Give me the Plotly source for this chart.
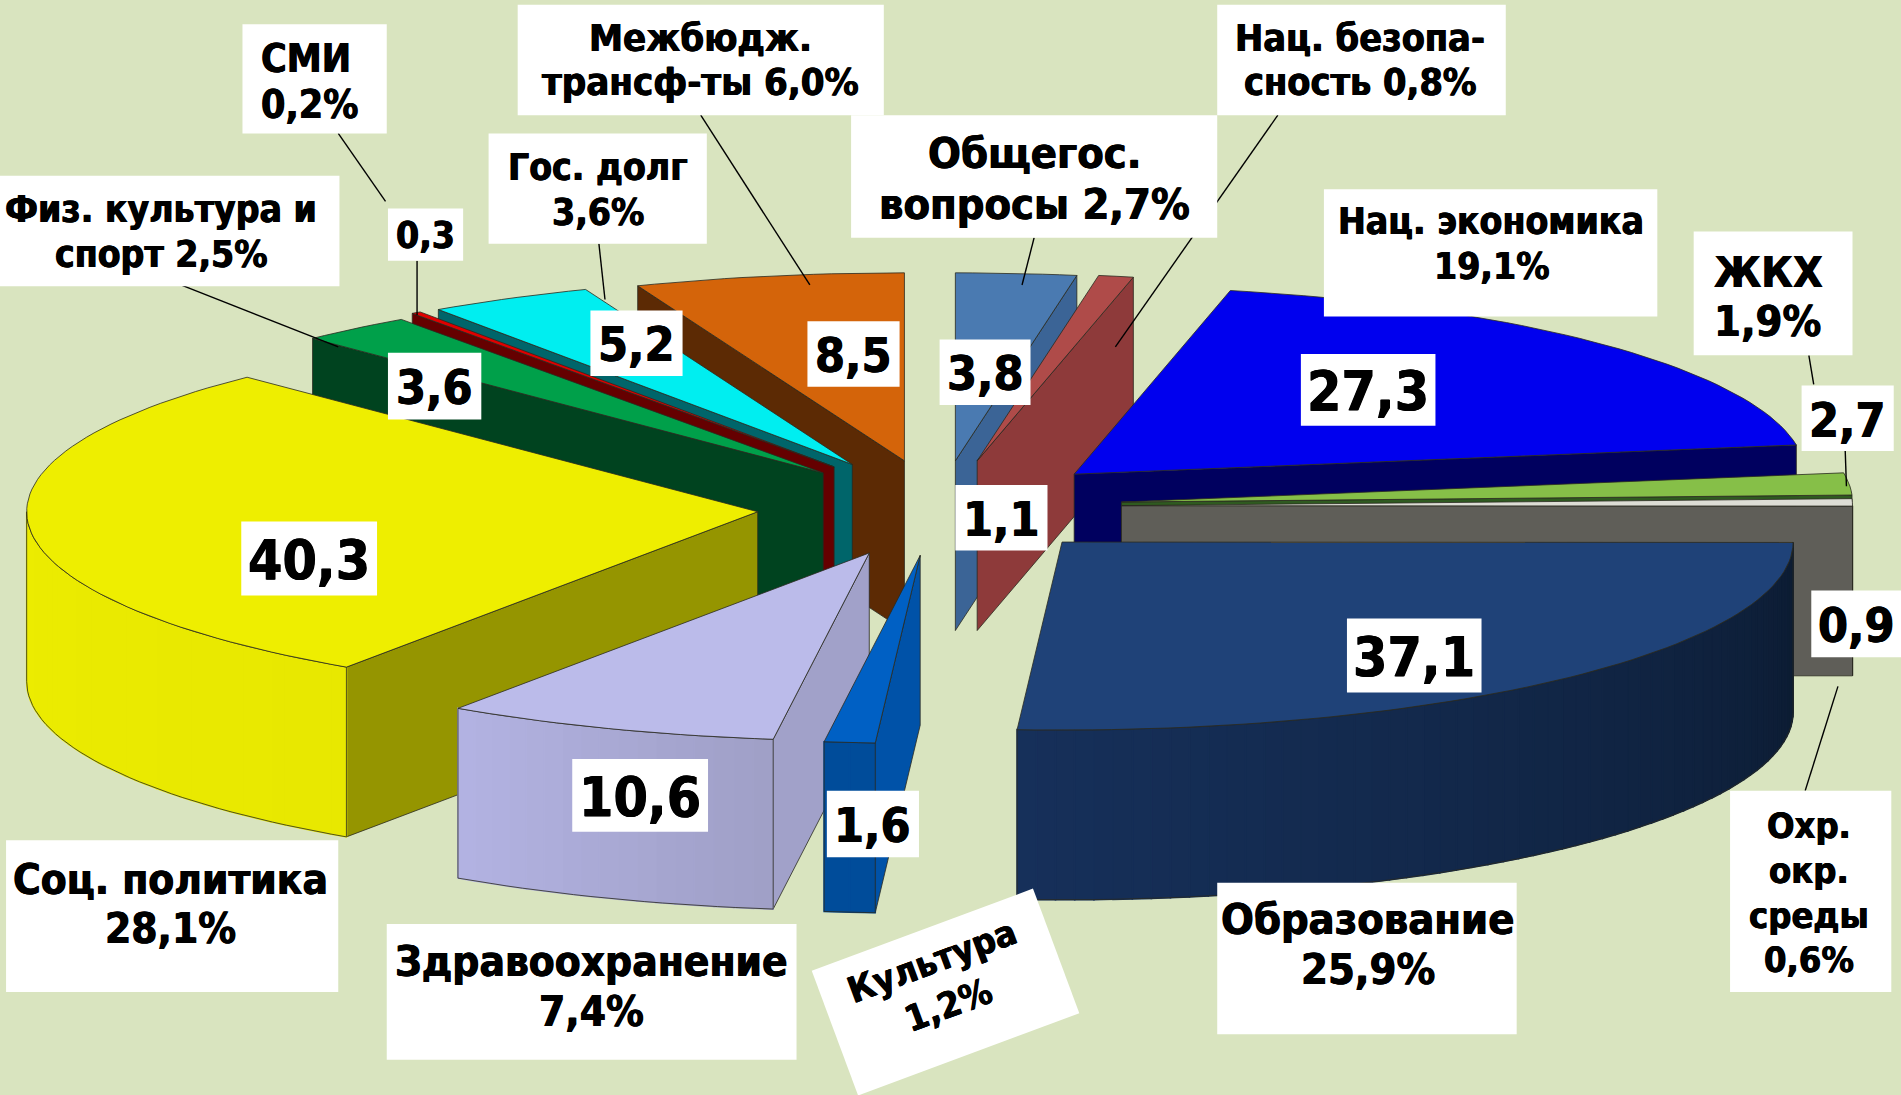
import math
import plotly.graph_objects as go

# ---------- data ----------
names = ["Общегос. вопросы", "Нац. безопасность", "Нац. экономика", "ЖКХ", "Охр. окр. среды", "Образование",
         "Культура", "Здравоохранение", "Соц. политика", "Физ. культура и спорт", "СМИ", "Гос. долг", "Межбюдж. трансферты"]
values = [3.8, 1.1, 27.3, 2.7, 0.9, 37.1, 1.6, 10.6, 40.3, 3.6, 0.3, 5.2, 8.5]
shares = [2.7, 0.8, 19.1, 1.9, 0.6, 25.9, 1.2, 7.4, 28.1, 2.5, 0.2, 3.6, 6.0]

# ---------- styling / layout (drawn in a 1568x903 coordinate space) ----------
W, H = 1568, 903
PX = 1901 / 1568
RX, RY, DEPTH = 603, 155, 140
BG = "#D9E4BF"
apex = [(788, 380), (806, 380), (886, 391), (925, 414), (925, 417), (876, 447), (759, 458),
        (717, 456), (625, 422), (679, 390), (688, 385), (703, 383), (746, 380)]
top_col = ["#4A7AB1", "#AF4B49", "#0000EE", "#86BF48", "#DDDDD5", "#1F4278", "#0060C4",
           "#BBBBEA", "#EEEE00", "#00A04A", "#E00000", "#00EEF0", "#D4640A"]
wall_col = ["#3B6496", "#8E3A3A", "#00005F", "#2F5A20", "#5F5E58", "#152F57", "#0052A8",
            "#A1A1C9", "#959500", "#00431F", "#650000", "#00656A", "#5C2A04"]
rim_from = ["#3B6496", "#8E3A3A", "#00005F", "#2F5A20", "#5F5E58", "#0C1B31", "#004C9A",
            "#9F9FC6", "#E8E800", "#00431F", "#650000", "#00656A", "#5C2A04"]
rim_to = ["#3B6496", "#8E3A3A", "#00005F", "#2F5A20", "#5F5E58", "#16305A", "#004C9A",
          "#B3B3E3", "#ECEC00", "#00431F", "#650000", "#00656A", "#5C2A04"]
# painter's order, back to front
draw_order = [0, 1, 12, 11, 10, 9, 8, 7, 6, 2, 3, 4, 5]
EDGE = "#2A2A20"

total = sum(values)
starts, ends, acc = [], [], 0.0
for v in values:
    starts.append(acc / total * 360)
    acc += v
    ends.append(acc / total * 360)


def rim_pt(a, th):
    t = math.radians(th)
    return a[0] + RX * math.sin(t), a[1] - RY * math.cos(t)


def arc(a, t0, t1, n=None):
    n = n or max(2, int(abs(t1 - t0) / 1.5) + 2)
    return [rim_pt(a, t0 + (t1 - t0) * i / (n - 1)) for i in range(n)]


def mix(c0, c1, f):
    p = [int(c0[i:i + 2], 16) for i in (1, 3, 5)]
    q = [int(c1[i:i + 2], 16) for i in (1, 3, 5)]
    return "rgb(%d,%d,%d)" % tuple(round(u + (w - u) * f) for u, w in zip(p, q))


fig = go.Figure()


def poly(pts, fill, line=EDGE, lw=0.8):
    xs = [p[0] for p in pts] + [pts[0][0]]
    ys = [p[1] for p in pts] + [pts[0][1]]
    fig.add_trace(go.Scatter(x=xs, y=ys, mode="lines", fill="toself", fillcolor=fill,
                             line=dict(color=line, width=lw), hoverinfo="skip", showlegend=False))


def drop(pts):
    return [(x, y + DEPTH) for x, y in pts]


for i in draw_order:
    a, t0, t1 = apex[i], starts[i], ends[i]
    for th, visible in ((t0, math.sin(math.radians(t0)) < 0), (t1, math.sin(math.radians(t1)) > 0)):
        if visible:
            p = rim_pt(a, th)
            poly([a, p, (p[0], p[1] + DEPTH), (a[0], a[1] + DEPTH)], wall_col[i])
    r0, r1 = max(t0, 90), min(t1, 270)
    if r1 > r0:
        steps = max(1, int((r1 - r0) / 1.5))
        for k in range(steps):
            s0 = r0 + (r1 - r0) * k / steps
            s1 = r0 + (r1 - r0) * (k + 1) / steps
            top = arc(a, s0, s1, 3)
            c = mix(rim_from[i], rim_to[i], (k + .5) / steps)
            poly(top + drop(top)[::-1], c, line=c, lw=1.6)
        top = arc(a, r0, r1)
        out = top + drop(top)[::-1]
        poly(out, "rgba(0,0,0,0)")
    poly([a] + arc(a, t0, t1), top_col[i])

# ---------- leader lines ----------
leaders = [((279, 110), (318, 166)), ((344, 215), (344, 260)), ((134, 229), (279, 286)), ((494, 201), (499, 247)),
           ((578, 95), (668, 235)), ((853, 196), (843, 235)), ((1054, 95), (920, 286)), ((1492, 293), (1496, 317)),
           ((1522, 372), (1523, 401)), ((1516, 566), (1489, 652))]
shapes = [dict(type="line", x0=p[0], y0=p[1], x1=q[0], y1=q[1], layer="above", line=dict(color="black", width=1.4))
          for p, q in leaders]

# ---------- label boxes ----------
FONT = "'DejaVu Sans Condensed', 'DejaVu Sans', sans-serif"
HEAVY = "0.5px 0 0 #000, -0.5px 0 0 #000"
pct = [("%.1f" % s).replace(".", ",") + "%" for s in shares]
val = [("%.1f" % v).replace(".", ",") for v in values]

# idx, box(x0,y0,x1,y1)
value_boxes = {8: (199, 430, 311, 491), 2: (1073, 292, 1184, 351), 5: (1111, 510, 1222, 571), 7: (472, 626, 584, 686),
               12: (666, 265, 742, 319), 11: (487, 256, 563, 310), 9: (320, 291, 397, 346), 0: (775, 280, 850, 334),
               1: (788, 400, 864, 454), 3: (1486, 318, 1562, 372), 4: (1494, 487, 1568, 542), 6: (682, 652, 758, 707),
               10: (320, 172, 382, 215)}
name_boxes = [
    ((200, 20, 319, 110), 214, [("СМИ", 48), (pct[10], 86)], 39, "left"),
    ((427, 4, 729, 95), 578, [("Межбюдж.", 31), ("трансф-ты " + pct[12], 68)], 38, "center"),
    ((403, 110, 583, 201), 493, [("Гос. долг", 138), (pct[11], 175)], 37, "center"),
    ((0, 145, 280, 236), 133, [("Физ. культура и", 173), ("спорт " + pct[9], 210)], 37, "center"),
    ((702, 95, 1004, 196), 853, [("Общегос.", 126), ("вопросы " + pct[0], 168)], 43, "center"),
    ((1004, 4, 1242, 95), 1122, [("Нац. безопа-", 31), ("сность " + pct[1], 68)], 37.5, "center"),
    ((1092, 156, 1367, 261), 1230, [("Нац. экономика", 183), (pct[2], 220)], 37, "center"),
    ((1397, 191, 1528, 293), 1412, [("ЖКХ", 224), (pct[3], 265)], 43, "left"),
    ((1427, 652, 1560, 818), 1492, [("Охр.", 681), ("окр.", 718), ("среды", 755), (pct[4], 791)], 36, "center"),
    ((1004, 728, 1251, 853), 1128, [("Образование", 758), (pct[5], 799)], 43, "center"),
    ((5, 693, 279, 818), 141, [("Соц. политика", 725), (pct[8], 766)], 42, "center"),
    ((319, 762, 657, 874), 488, [("Здравоохранение", 793), (pct[7], 834)], 42, "center"),
]
annotations = []
for i, b in value_boxes.items():
    shapes.append(dict(type="rect", x0=b[0], y0=b[1], x1=b[2], y1=b[3], layer="above",
                       fillcolor="white", line=dict(width=0)))
    size = 55 if i in (8, 2, 5, 7) else (48 if i != 10 else 37)
    annotations.append(dict(x=(b[0] + b[2]) / 2, y=(b[1] + b[3]) / 2 + 1, text="<b>%s</b>" % val[i], showarrow=False,
                            font=dict(size=size, family=FONT, color="black", shadow=HEAVY)))
for b, x, lines, size, al in name_boxes:
    shapes.append(dict(type="rect", x0=b[0], y0=b[1], x1=b[2], y1=b[3], layer="above",
                       fillcolor="white", line=dict(width=0)))
    for txt, y in lines:
        annotations.append(dict(x=x, y=y, text="<b>%s</b>" % txt, showarrow=False,
                                xanchor="left" if al == "left" else "center",
                                font=dict(size=size, family=FONT, color="black", shadow=HEAVY)))
# rotated label: white box, then text a little above its centre
annotations.append(dict(x=780, y=818, text=" ", showarrow=False, textangle=-20.4,
                        bgcolor="white", width=192 * PX, height=107 * PX, font=dict(size=30)))
annotations.append(dict(x=776, y=811, text="<b>Культура<br>" + pct[6] + "</b>", showarrow=False, textangle=-20.4,
                        font=dict(size=36, family=FONT, color="black", shadow=HEAVY)))

fig.update_layout(
    width=1901, height=1095, margin=dict(l=0, r=0, t=0, b=0), autosize=False,
    paper_bgcolor=BG, plot_bgcolor=BG, showlegend=False,
    xaxis=dict(range=[0, W], visible=False, fixedrange=True),
    yaxis=dict(range=[H, 0], visible=False, fixedrange=True),
    shapes=shapes, annotations=annotations,
)
fig.write_html("out.html", config={"displayModeBar": False},
               post_script="document.body.style.margin='0';document.body.style.overflow='hidden';")
